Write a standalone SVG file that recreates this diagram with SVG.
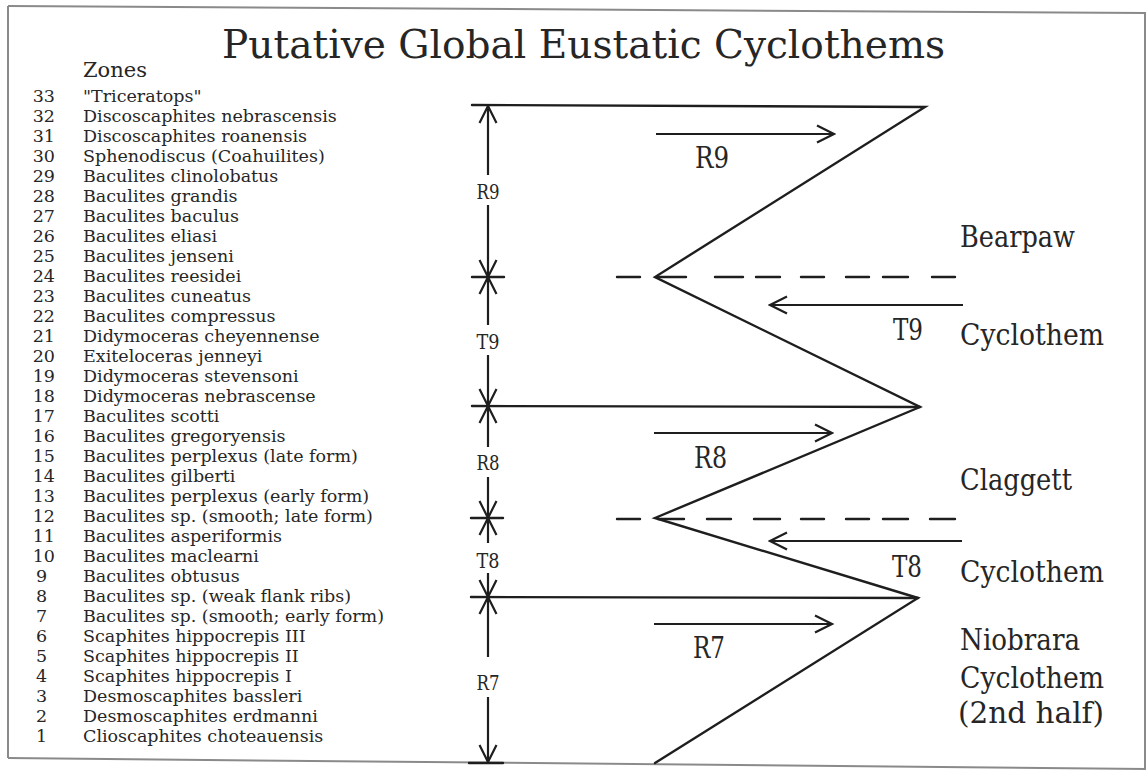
<svg xmlns="http://www.w3.org/2000/svg" width="1148" height="771" viewBox="0 0 1148 771">
<style>
text{font-family:"DejaVu Serif","Liberation Serif",serif;fill:#262626}
.z{font-size:17.5px}
.n{font-size:17.5px}
.s{font-size:21px;text-anchor:middle}
.b{font-size:29px}
.r{font-size:29px}
.ln{stroke:#1e1e1e;stroke-width:2.4;fill:none;stroke-linecap:round}
.ar{stroke:#1e1e1e;stroke-width:2.2;fill:none;marker-end:url(#ah)}
.fr{stroke:#8a8a8a;stroke-width:2;fill:none}
</style>
<defs>
<marker id="ah" viewBox="-20 -11 22 22" refX="0" refY="0" markerWidth="22" markerHeight="22" markerUnits="userSpaceOnUse" orient="auto">
<path d="M-17,-8.5 L0,0 L-17,8.5" fill="none" stroke="#1e1e1e" stroke-width="2.2"/>
</marker>
</defs>
<rect width="1148" height="771" fill="#fff"/>
<g id="frame">
<path class="fr" d="M8,6 L1146,13"/>
<path class="fr" d="M8,6 L8,758" stroke="#555"/>
<path class="fr" d="M1145,13 L1145,769" stroke="#ddd"/>
<path class="fr" d="M8,758 L1146,769"/>
</g>
<g id="title">
<text x="222" y="58" font-size="39" textLength="723" lengthAdjust="spacingAndGlyphs" font-weight="300">Putative Global Eustatic Cyclothems</text>
</g>
<g id="zones">
<text x="83" y="77" font-size="21">Zones</text>
<g id="z33"><text class="n" x="55" y="102" text-anchor="end">33</text><text class="z" x="83" y="102">"Triceratops"</text></g>
<g id="z32"><text class="n" x="55" y="122" text-anchor="end">32</text><text class="z" x="83" y="122">Discoscaphites nebrascensis</text></g>
<g id="z31"><text class="n" x="55" y="142" text-anchor="end">31</text><text class="z" x="83" y="142">Discoscaphites roanensis</text></g>
<g id="z30"><text class="n" x="55" y="162" text-anchor="end">30</text><text class="z" x="83" y="162">Sphenodiscus (Coahuilites)</text></g>
<g id="z29"><text class="n" x="55" y="182" text-anchor="end">29</text><text class="z" x="83" y="182">Baculites clinolobatus</text></g>
<g id="z28"><text class="n" x="55" y="202" text-anchor="end">28</text><text class="z" x="83" y="202">Baculites grandis</text></g>
<g id="z27"><text class="n" x="55" y="222" text-anchor="end">27</text><text class="z" x="83" y="222">Baculites baculus</text></g>
<g id="z26"><text class="n" x="55" y="242" text-anchor="end">26</text><text class="z" x="83" y="242">Baculites eliasi</text></g>
<g id="z25"><text class="n" x="55" y="262" text-anchor="end">25</text><text class="z" x="83" y="262">Baculites jenseni</text></g>
<g id="z24"><text class="n" x="55" y="282" text-anchor="end">24</text><text class="z" x="83" y="282">Baculites reesidei</text></g>
<g id="z23"><text class="n" x="55" y="302" text-anchor="end">23</text><text class="z" x="83" y="302">Baculites cuneatus</text></g>
<g id="z22"><text class="n" x="55" y="322" text-anchor="end">22</text><text class="z" x="83" y="322">Baculites compressus</text></g>
<g id="z21"><text class="n" x="55" y="342" text-anchor="end">21</text><text class="z" x="83" y="342">Didymoceras cheyennense</text></g>
<g id="z20"><text class="n" x="55" y="362" text-anchor="end">20</text><text class="z" x="83" y="362">Exiteloceras jenneyi</text></g>
<g id="z19"><text class="n" x="55" y="382" text-anchor="end">19</text><text class="z" x="83" y="382">Didymoceras stevensoni</text></g>
<g id="z18"><text class="n" x="55" y="402" text-anchor="end">18</text><text class="z" x="83" y="402">Didymoceras nebrascense</text></g>
<g id="z17"><text class="n" x="55" y="422" text-anchor="end">17</text><text class="z" x="83" y="422">Baculites scotti</text></g>
<g id="z16"><text class="n" x="55" y="442" text-anchor="end">16</text><text class="z" x="83" y="442">Baculites gregoryensis</text></g>
<g id="z15"><text class="n" x="55" y="462" text-anchor="end">15</text><text class="z" x="83" y="462">Baculites perplexus (late form)</text></g>
<g id="z14"><text class="n" x="55" y="482" text-anchor="end">14</text><text class="z" x="83" y="482">Baculites gilberti</text></g>
<g id="z13"><text class="n" x="55" y="502" text-anchor="end">13</text><text class="z" x="83" y="502">Baculites perplexus (early form)</text></g>
<g id="z12"><text class="n" x="55" y="522" text-anchor="end">12</text><text class="z" x="83" y="522">Baculites sp. (smooth; late form)</text></g>
<g id="z11"><text class="n" x="55" y="542" text-anchor="end">11</text><text class="z" x="83" y="542">Baculites asperiformis</text></g>
<g id="z10"><text class="n" x="55" y="562" text-anchor="end">10</text><text class="z" x="83" y="562">Baculites maclearni</text></g>
<g id="z9"><text class="n" x="36" y="582">9</text><text class="z" x="83" y="582">Baculites obtusus</text></g>
<g id="z8"><text class="n" x="36" y="602">8</text><text class="z" x="83" y="602">Baculites sp. (weak flank ribs)</text></g>
<g id="z7"><text class="n" x="36" y="622">7</text><text class="z" x="83" y="622">Baculites sp. (smooth; early form)</text></g>
<g id="z6"><text class="n" x="36" y="642">6</text><text class="z" x="83" y="642">Scaphites hippocrepis III</text></g>
<g id="z5"><text class="n" x="36" y="662">5</text><text class="z" x="83" y="662">Scaphites hippocrepis II</text></g>
<g id="z4"><text class="n" x="36" y="682">4</text><text class="z" x="83" y="682">Scaphites hippocrepis I</text></g>
<g id="z3"><text class="n" x="36" y="702">3</text><text class="z" x="83" y="702">Desmoscaphites bassleri</text></g>
<g id="z2"><text class="n" x="36" y="722">2</text><text class="z" x="83" y="722">Desmoscaphites erdmanni</text></g>
<g id="z1"><text class="n" x="36" y="742">1</text><text class="z" x="83" y="742">Clioscaphites choteauensis</text></g>
</g>
<g id="connectors">
<path class="ln" d="M472,105 L925,107 L655,277 L920,407 L655,518 L918,598 L655,763"/>
<path class="ln" d="M472,406 L920,407 M471,597 L918,598"/>
<path class="ln" d="M472,277 L504,277 M471,518 L503,518 M469,763 L503,763"/>
<path class="ln" d="M617,277 H640 M658,277 H686 M715,277 H743 M756,277 H780 M801,277 H824 M846,277 H869 M883,277 H908 M932,277 H955"/>
<path class="ln" d="M617,519 H640 M658,519 H684 M707,519 H731 M754,519 H780 M801,519 H824 M846,519 H869 M883,519 H908 M930,519 H955"/>
<line class="ar" x1="488" y1="175" x2="488" y2="106"/>
<line class="ar" x1="488" y1="205" x2="488" y2="277"/>
<line class="ar" x1="488" y1="325" x2="488" y2="277"/>
<line class="ar" x1="488" y1="355" x2="488" y2="406"/>
<line class="ar" x1="488" y1="447" x2="488" y2="406"/>
<line class="ar" x1="488" y1="477" x2="488" y2="518"/>
<line class="ar" x1="488" y1="543" x2="488" y2="518"/>
<line class="ar" x1="488" y1="573" x2="488" y2="597"/>
<line class="ar" x1="488" y1="657" x2="488" y2="597"/>
<line class="ar" x1="488" y1="697" x2="488" y2="762"/>
<line class="ar" x1="656" y1="134" x2="834" y2="134"/>
<line class="ar" x1="963" y1="305" x2="770" y2="305"/>
<line class="ar" x1="654" y1="433" x2="832" y2="433"/>
<line class="ar" x1="962" y1="541" x2="770" y2="541"/>
<line class="ar" x1="654" y1="624" x2="832" y2="624"/>
</g>
<g id="dim-labels">
<text class="s" x="488" y="199" textLength="23" lengthAdjust="spacingAndGlyphs">R9</text>
<text class="s" x="488" y="349" textLength="23" lengthAdjust="spacingAndGlyphs">T9</text>
<text class="s" x="488" y="470" textLength="23" lengthAdjust="spacingAndGlyphs">R8</text>
<text class="s" x="488" y="568" textLength="23" lengthAdjust="spacingAndGlyphs">T8</text>
<text class="s" x="488" y="690" textLength="23" lengthAdjust="spacingAndGlyphs">R7</text>
</g>
<g id="phase-labels">
<text class="b" x="695" y="168" textLength="34" lengthAdjust="spacingAndGlyphs">R9</text>
<text class="b" x="893" y="340" textLength="30" lengthAdjust="spacingAndGlyphs">T9</text>
<text class="b" x="694" y="468" textLength="33" lengthAdjust="spacingAndGlyphs">R8</text>
<text class="b" x="892" y="577" textLength="30" lengthAdjust="spacingAndGlyphs">T8</text>
<text class="b" x="693" y="658" textLength="32" lengthAdjust="spacingAndGlyphs">R7</text>
</g>
<g id="cyclothem-labels">
<text class="r" x="960" y="247" textLength="115" lengthAdjust="spacingAndGlyphs">Bearpaw</text>
<text class="r" x="960" y="345" textLength="144" lengthAdjust="spacingAndGlyphs">Cyclothem</text>
<text class="r" x="960" y="490" textLength="112" lengthAdjust="spacingAndGlyphs">Claggett</text>
<text class="r" x="960" y="582" textLength="144" lengthAdjust="spacingAndGlyphs">Cyclothem</text>
<text class="r" x="960" y="650" textLength="120" lengthAdjust="spacingAndGlyphs">Niobrara</text>
<text class="r" x="960" y="688" textLength="144" lengthAdjust="spacingAndGlyphs">Cyclothem</text>
<text class="r" x="958" y="723" textLength="146" lengthAdjust="spacingAndGlyphs">(2nd half)</text>
</g>
</svg>
